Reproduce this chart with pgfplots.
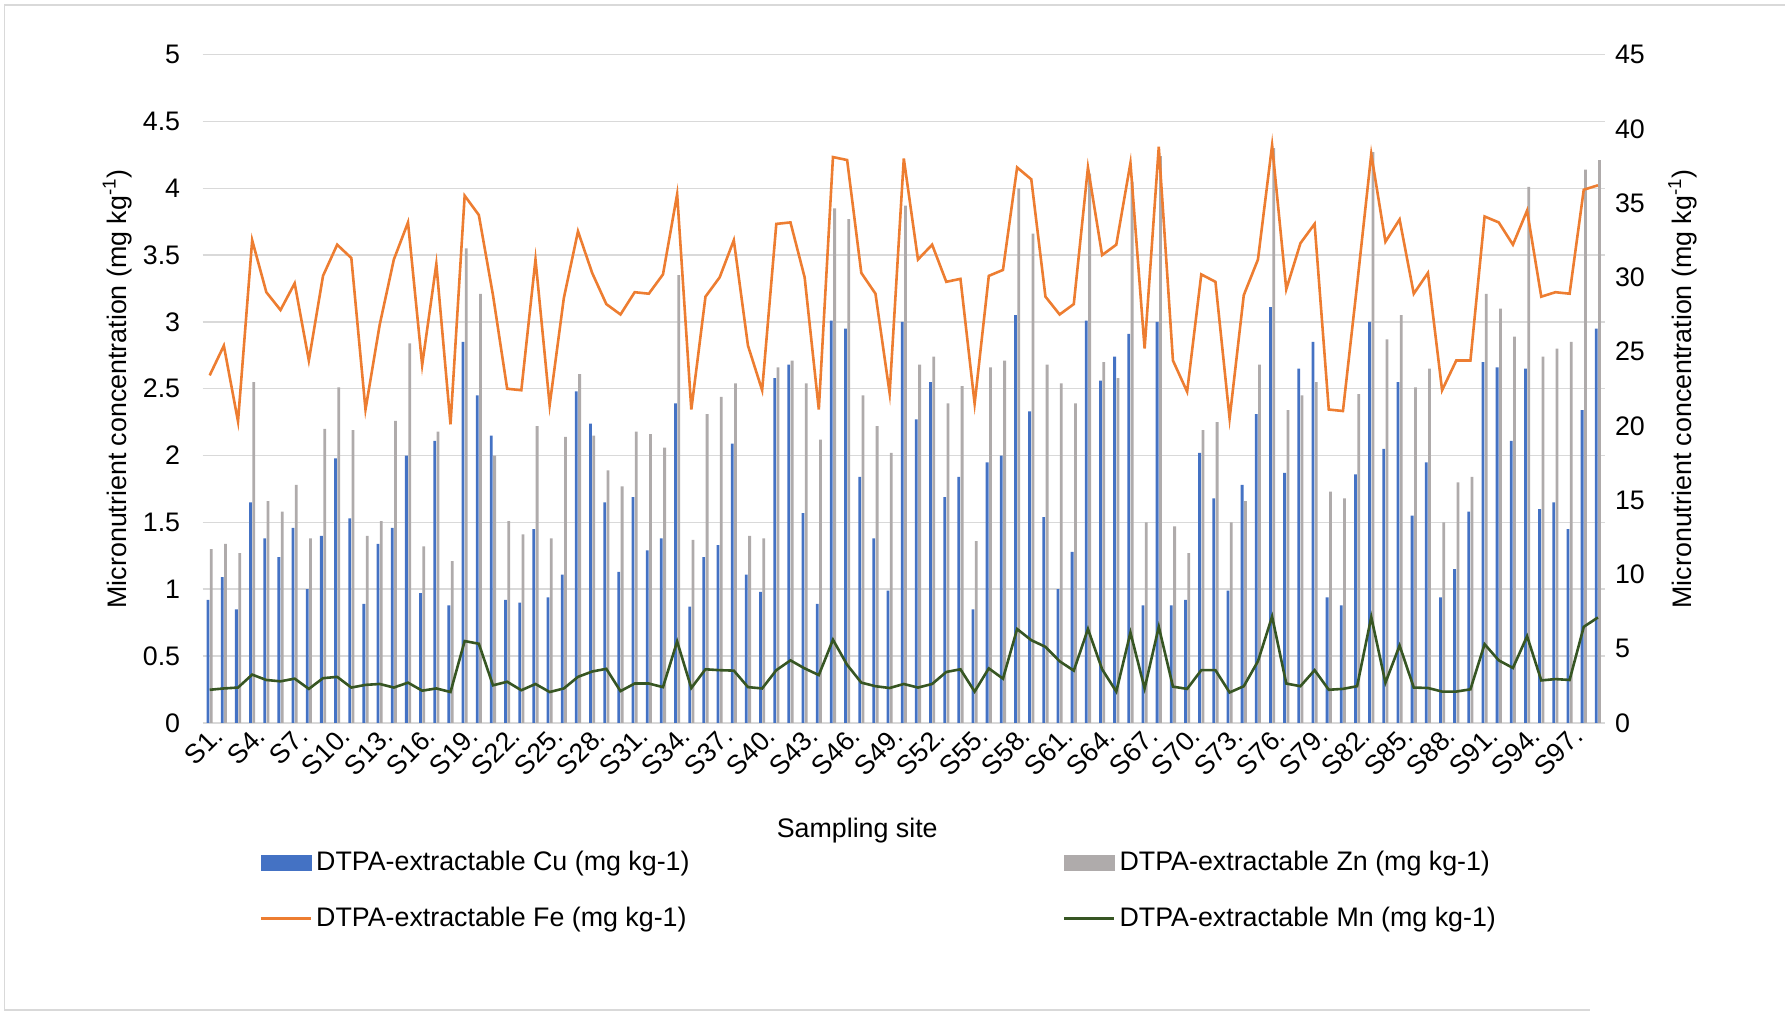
\documentclass[border=0pt]{standalone}
\usepackage{fontspec}
\setmainfont{Liberation Sans}
\usepackage{pgfplots}
\usepackage{pgfplotstable}
\pgfplotsset{compat=1.18}
\definecolor{cublue}{HTML}{4472C4}
\definecolor{zngray}{HTML}{AFABAB}
\definecolor{feorange}{HTML}{ED7D31}
\definecolor{mngreen}{HTML}{375623}
\definecolor{gridgray}{HTML}{D9D9D9}
\pgfplotstableread{
site Cu Zn Fe Mn
1 0.92 1.30 23.4 2.23
2 1.09 1.34 25.4 2.32
3 0.85 1.27 20.3 2.38
4 1.65 2.55 32.5 3.25
5 1.38 1.66 29.0 2.89
6 1.24 1.58 27.8 2.80
7 1.46 1.78 29.6 2.98
8 1.00 1.38 24.4 2.29
9 1.40 2.20 30.1 3.01
10 1.98 2.51 32.2 3.10
11 1.53 2.19 31.3 2.38
12 0.89 1.40 21.1 2.56
13 1.34 1.51 26.8 2.62
14 1.46 2.26 31.2 2.38
15 2.00 2.84 33.7 2.71
16 0.97 1.32 24.1 2.17
17 2.11 2.18 30.9 2.32
18 0.88 1.21 20.1 2.08
19 2.85 3.55 35.5 5.51
20 2.45 3.21 34.2 5.33
21 2.15 2.00 28.8 2.53
22 0.92 1.51 22.5 2.77
23 0.90 1.41 22.4 2.20
24 1.45 2.22 31.2 2.62
25 0.94 1.38 21.4 2.08
26 1.11 2.14 28.6 2.32
27 2.48 2.61 33.1 3.10
28 2.24 2.15 30.3 3.46
29 1.65 1.89 28.2 3.64
30 1.13 1.77 27.5 2.14
31 1.69 2.18 29.0 2.65
32 1.29 2.16 28.9 2.65
33 1.38 2.06 30.2 2.41
34 2.39 3.35 35.6 5.48
35 0.87 1.37 21.1 2.35
36 1.24 2.31 28.7 3.61
37 1.33 2.44 30.0 3.55
38 2.09 2.54 32.5 3.52
39 1.11 1.40 25.4 2.41
40 0.98 1.38 22.4 2.32
41 2.58 2.66 33.6 3.55
42 2.68 2.71 33.7 4.21
43 1.57 2.54 30.0 3.67
44 0.89 2.12 21.1 3.22
45 3.01 3.85 38.1 5.60
46 2.95 3.77 37.9 3.91
47 1.84 2.45 30.3 2.71
48 1.38 2.22 28.9 2.47
49 0.99 2.02 22.2 2.35
50 3.00 3.87 38.0 2.62
51 2.27 2.68 31.2 2.38
52 2.55 2.74 32.2 2.62
53 1.69 2.39 29.7 3.43
54 1.84 2.52 29.9 3.61
55 0.85 1.36 21.5 2.11
56 1.95 2.66 30.1 3.67
57 2.00 2.71 30.5 2.98
58 3.05 4.00 37.4 6.32
59 2.33 3.66 36.6 5.57
60 1.54 2.68 28.7 5.12
61 1.00 2.54 27.5 4.15
62 1.28 2.39 28.2 3.52
63 3.01 4.11 37.4 6.32
64 2.56 2.70 31.5 3.61
65 2.74 2.58 32.2 2.11
66 2.91 4.05 37.7 6.08
67 0.88 1.50 25.2 2.32
68 3.00 4.24 38.8 6.47
69 0.88 1.47 24.4 2.44
70 0.92 1.27 22.3 2.29
71 2.02 2.19 30.2 3.55
72 1.68 2.25 29.7 3.55
73 0.99 1.50 20.5 2.05
74 1.78 1.66 28.8 2.47
75 2.31 2.68 31.2 4.15
76 3.11 4.30 38.9 7.16
77 1.87 2.34 29.2 2.65
78 2.65 2.45 32.3 2.47
79 2.85 2.55 33.6 3.55
80 0.94 1.73 21.1 2.23
81 0.88 1.68 21.0 2.29
82 1.86 2.46 29.5 2.47
83 3.00 4.27 38.3 7.13
84 2.05 2.87 32.4 2.71
85 2.55 3.05 33.9 5.21
86 1.55 2.51 28.9 2.38
87 1.95 2.65 30.3 2.35
88 0.94 1.50 22.4 2.11
89 1.15 1.80 24.4 2.11
90 1.58 1.84 24.4 2.26
91 2.70 3.21 34.1 5.30
92 2.66 3.10 33.7 4.21
93 2.11 2.89 32.2 3.70
94 2.65 4.01 34.5 5.84
95 1.60 2.74 28.7 2.86
96 1.65 2.80 29.0 2.95
97 1.45 2.85 28.9 2.89
98 2.34 4.14 35.9 6.47
99 2.95 4.21 36.2 7.10
}\datatab
\begin{document}
\begin{tikzpicture}[font=\fontsize{13.4}{16}\selectfont]
\useasboundingbox (0,0) rectangle (892.5pt,506.5pt);
\draw[gridgray, line width=0.75pt] (892.5pt,504pt) -- (2.15pt,504pt) -- (2.15pt,1.5pt) -- (795pt,1.5pt);
\begin{axis}[
  at={(101.3pt,145.05pt)}, anchor=south west, scale only axis,
  width=701.2pt, height=334.15pt,
  xmin=0.5, xmax=99.5, ymin=0, ymax=5,
  ytick={0,0.5,1,1.5,2,2.5,3,3.5,4,4.5,5},
  ybar=0.25pt, bar width=1.4pt,
  xtick={1,4,...,97},
  xticklabels={S1.,S4.,S7.,S10.,S13.,S16.,S19.,S22.,S25.,S28.,S31.,S34.,S37.,S40.,S43.,S46.,S49.,S52.,S55.,S58.,S61.,S64.,S67.,S70.,S73.,S76.,S79.,S82.,S85.,S88.,S91.,S94.,S97.},
  xticklabel style={rotate=45, anchor=east, inner sep=1pt, yshift=-6pt, xshift=1pt},
  ymajorgrids, grid style={gridgray, line width=0.75pt},
  axis line style={draw=none}, major tick length=0pt,
  yticklabel style={xshift=-7.7pt},
  ylabel={Micronutrient concentration (mg kg\textsuperscript{-1})},
  ylabel style={at={(axis description cs:-0.0609,0.5)}, anchor=center},
  xlabel={Sampling site},
  xlabel style={at={(axis description cs:0.4668,-0.1618)}, anchor=center},
  /pgf/number format/assume math mode=true,
]
\addplot[fill=cublue, draw=none] table[x=site,y=Cu]{\datatab};
\addplot[fill=zngray, draw=none] table[x=site,y=Zn]{\datatab};
\end{axis}
\begin{axis}[
  at={(101.3pt,145.05pt)}, anchor=south west, scale only axis,
  width=701.2pt, height=334.15pt,
  xmin=0.5, xmax=99.5, ymin=0, ymax=45,
  ytick={0,5,10,15,20,25,30,35,40,45},
  axis y line*=right, axis x line=none, xtick=\empty,
  axis line style={draw=none}, major tick length=0pt,
  yticklabel style={xshift=1.5pt},
  ylabel={Micronutrient concentration (mg kg\textsuperscript{-1})},
  ylabel style={at={(axis description cs:1.0553,0.5)}, anchor=center},
  /pgf/number format/assume math mode=true,
  legend columns=2, legend cell align=left,
  legend style={at={(axis description cs:0.0361,-0.2507)}, anchor=west,
    draw=none, fill=none, row sep=12.7pt, nodes={inner sep=2pt}},
]
\addlegendimage{legend image code/.code={\fill[cublue] (0pt,-3.75pt) rectangle (25pt,3.75pt);}}
\addlegendentry{\makebox[371.4pt][l]{DTPA-extractable Cu (mg kg-1)}}
\addlegendimage{legend image code/.code={\fill[zngray] (0pt,-3.75pt) rectangle (25pt,3.75pt);}}
\addlegendentry{DTPA-extractable Zn (mg kg-1)}
\addplot[feorange, line width=1.3pt, no marks, legend image code/.code={\draw[feorange, line width=1.3pt] (0pt,0pt)--(25pt,0pt);}] table[x=site,y=Fe]{\datatab};
\addlegendentry{\makebox[371.4pt][l]{DTPA-extractable Fe (mg kg-1)}}
\addplot[mngreen, line width=1.3pt, no marks, legend image code/.code={\draw[mngreen, line width=1.3pt] (0pt,0pt)--(25pt,0pt);}] table[x=site,y=Mn]{\datatab};
\addlegendentry{DTPA-extractable Mn (mg kg-1)}
\end{axis}
\end{tikzpicture}
\end{document}
